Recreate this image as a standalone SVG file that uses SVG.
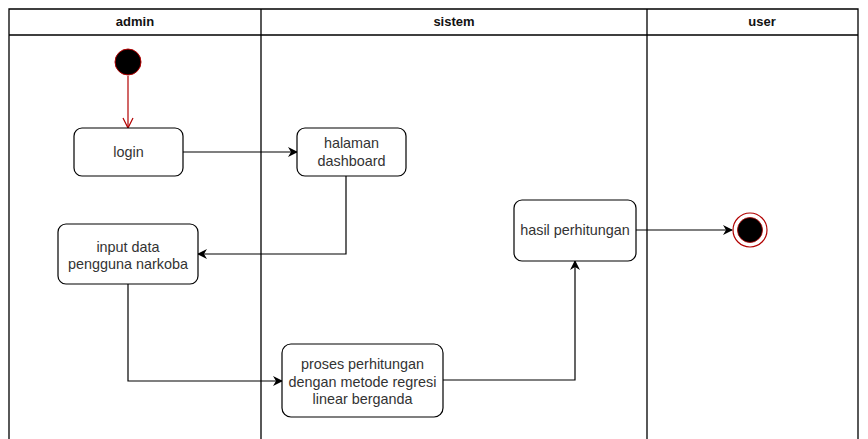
<svg xmlns="http://www.w3.org/2000/svg" width="868" height="439" viewBox="0 0 868 439">
<style>
.lane{fill:none;stroke:#000;stroke-width:1.3}
.hdr{font-family:"Liberation Sans",Arial,sans-serif;font-size:13px;font-weight:bold;fill:#111;text-anchor:middle}
.box{fill:#fff;stroke:#000;stroke-width:1.2}
.lbl{font-family:"Liberation Sans",Arial,sans-serif;font-size:14.4px;fill:#333;text-anchor:middle}
.edge{fill:none;stroke:#000;stroke-width:1.2}
</style>
<defs>
<marker id="arr" viewBox="0 0 10 10" refX="9" refY="5" markerWidth="10" markerHeight="10" markerUnits="userSpaceOnUse" orient="auto">
<path d="M0,0 L10,5 L0,10 L3,5 Z" fill="#000"/>
</marker>
<marker id="open" viewBox="0 0 12 12" refX="11" refY="6" markerWidth="12" markerHeight="12" markerUnits="userSpaceOnUse" orient="auto">
<path d="M1,1 L11,6 L1,11" fill="none" stroke="#b20000" stroke-width="1.2"/>
</marker>
</defs>
<rect width="868" height="439" fill="#fff"/>
<g id="lanes">
<path class="lane" d="M9,439 V9 H858 V439 M9,35 H858 M261,9 V439 M647,9 V439"/>
<text class="hdr" x="135" y="26">admin</text>
<text class="hdr" x="454" y="26">sistem</text>
<text class="hdr" x="762" y="26">user</text>
</g>
<g id="connectors">
<path d="M128,76 V128" fill="none" stroke="#b20000" stroke-width="1.2" marker-end="url(#open)"/>
<path class="edge" d="M183,152 H297" marker-end="url(#arr)"/>
<path class="edge" d="M346,176 V254 H198" marker-end="url(#arr)"/>
<path class="edge" d="M128,284 V381 H282" marker-end="url(#arr)"/>
<path class="edge" d="M443,380 H575 V261" marker-end="url(#arr)"/>
<path class="edge" d="M636,230 H732" marker-end="url(#arr)"/>
</g>
<g id="start">
<circle cx="128" cy="62" r="13" fill="#000" stroke="#b20000" stroke-width="1"/>
</g>
<g id="login">
<rect class="box" x="74" y="128" width="109" height="48" rx="8"/>
<text class="lbl" x="128.5" y="157">login</text>
</g>
<g id="dashboard">
<rect class="box" x="297" y="128" width="109" height="48" rx="8"/>
<text class="lbl" x="351.5" y="148">halaman</text>
<text class="lbl" x="351.5" y="166">dashboard</text>
</g>
<g id="input">
<rect class="box" x="58" y="224" width="140" height="60" rx="8"/>
<text class="lbl" x="128" y="252">input data</text>
<text class="lbl" x="128" y="269">pengguna narkoba</text>
</g>
<g id="proses">
<rect class="box" x="282" y="344" width="161" height="73" rx="9"/>
<text class="lbl" x="362.5" y="369">proses perhitungan</text>
<text class="lbl" x="362.5" y="387">dengan metode regresi</text>
<text class="lbl" x="362.5" y="404">linear berganda</text>
</g>
<g id="hasil">
<rect class="box" x="514" y="200" width="122" height="61" rx="8"/>
<text class="lbl" x="575" y="235">hasil perhitungan</text>
</g>
<g id="end">
<circle cx="750" cy="230" r="17" fill="#fff" stroke="#b20000" stroke-width="1.2"/>
<circle cx="750" cy="230" r="12.5" fill="#000" stroke="#b20000" stroke-width="0.8"/>
</g>
</svg>
